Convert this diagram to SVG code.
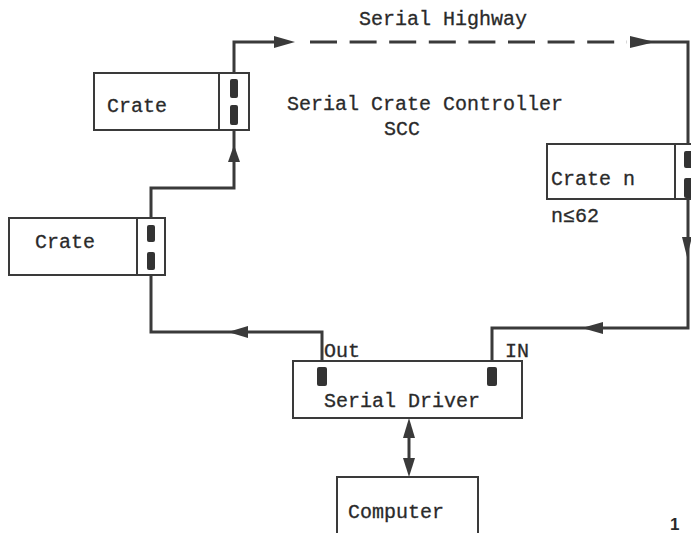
<svg xmlns="http://www.w3.org/2000/svg" width="691" height="533" viewBox="0 0 691 533">
<style>
text{font-family:"Liberation Mono","DejaVu Sans Mono",monospace;font-size:20px;fill:#2a2a2a;stroke:#2a2a2a;stroke-width:0.3}
.box{fill:#fff;stroke:#3a3a3a;stroke-width:2}
.pad{fill:#333}
.w{fill:none;stroke:#3a3a3a;stroke-width:3}
.ah{fill:#3a3a3a}
</style>
<rect width="691" height="533" fill="#fff"/>
<g id="connectors">
<polyline class="w" points="151,270 151,332 322,332 322,375"/>
<polyline class="w" points="492,375 492,328 688,328 688,144"/>
<polyline class="w" points="151,225 151,188 234,188 234,125"/>
<polyline class="w" points="234,79 234,42 280,42"/>
<line class="w" x1="310" y1="42" x2="627" y2="42" stroke-dasharray="27 12.6"/>
<polyline class="w" points="632,42 688,42 688,150"/>
<line class="w" x1="409" y1="425" x2="409" y2="470"/>
<polygon class="ah" points="295,42 274,36 274,48"/>
<polygon class="ah" points="655,42 630,36 630,48"/>
<polygon class="ah" points="234,145 228,162 240,162"/>
<polygon class="ah" points="687,257 682,237 692,237"/>
<polygon class="ah" points="582,328 603,322 603,334"/>
<polygon class="ah" points="228,332 248,326 248,338"/>
<polygon class="ah" points="409,418 403,438 415,438"/>
<polygon class="ah" points="409,477 403,458 415,458"/>
</g>
<g id="crate-top">
<rect class="box" x="94" y="73" width="155" height="57"/>
<line class="box" x1="219" y1="73" x2="219" y2="130"/>
<rect class="pad" x="230" y="79" width="8" height="19" rx="2"/>
<rect class="pad" x="230" y="105" width="8" height="20" rx="2"/>
<text x="107" y="112">Crate</text>
</g>
<g id="crate-left">
<rect class="box" x="9" y="218" width="156" height="57"/>
<line class="box" x1="137" y1="218" x2="137" y2="275"/>
<rect class="pad" x="147" y="225" width="8" height="17" rx="2"/>
<rect class="pad" x="147" y="252" width="8" height="18" rx="2"/>
<text x="35" y="248">Crate</text>
</g>
<g id="crate-n">
<rect class="box" x="547" y="144" width="150" height="55"/>
<line class="box" x1="675" y1="144" x2="675" y2="199"/>
<rect class="pad" x="684" y="151" width="9" height="17" rx="2"/>
<rect class="pad" x="684" y="178" width="9" height="20" rx="2"/>
<text x="551" y="185">Crate n</text>
<text x="551" y="222">n≤62</text>
</g>
<g id="serial-driver">
<rect class="box" x="293" y="361" width="229" height="57"/>
<rect class="pad" x="317" y="367" width="10" height="19" rx="2"/>
<rect class="pad" x="487" y="367" width="10" height="19" rx="2"/>
<text x="324" y="407">Serial Driver</text>
<text x="324" y="357">Out</text>
<text x="505" y="357">IN</text>
</g>
<g id="computer">
<rect class="box" x="337" y="477" width="141" height="70"/>
<text x="348" y="518">Computer</text>
</g>
<g id="labels">
<text x="359" y="25">Serial Highway</text>
<text x="287" y="110">Serial Crate Controller</text>
<text x="384" y="135">SCC</text>
<text x="670" y="530" style="font-family:'Liberation Sans',Arial,sans-serif;font-size:17px;font-weight:bold;stroke:none">1</text>
</g>
</svg>
